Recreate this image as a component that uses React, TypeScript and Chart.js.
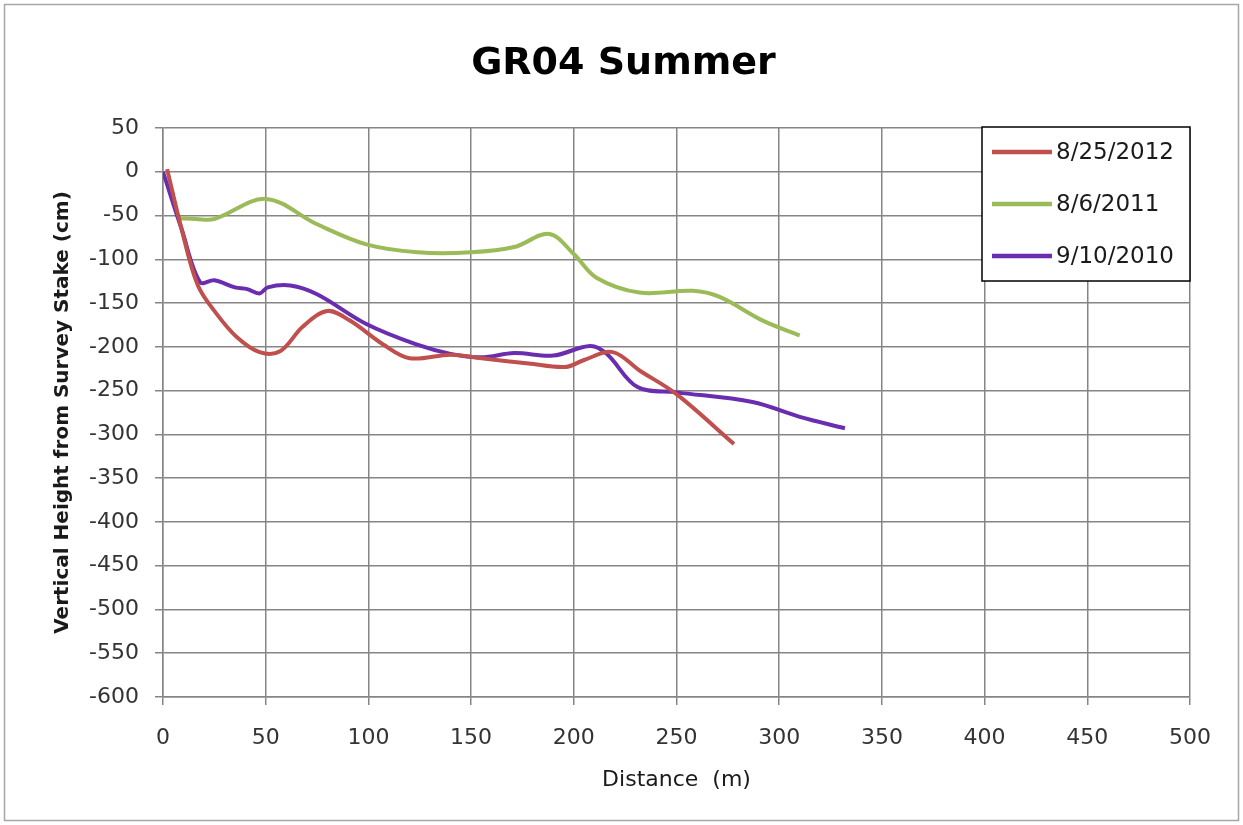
import React, { useEffect, useRef } from 'react';
import { Chart, registerables } from 'chart.js';

Chart.register(...registerables);

const chartTitle = 'GR04 Summer';
const xAxisTitle = 'Distance  (m)';
const yAxisTitle = 'Vertical Height from Survey Stake (cm)';

const seriesLabels = ['8/25/2012', '8/6/2011', '9/10/2010'];
const seriesColors = ['#C0504D', '#9BBB59', '#6A2DB0'];

const x2012 = [2, 9, 17, 26, 36, 47, 57, 68, 80, 91, 107, 120, 140, 155, 178, 196, 205, 219, 232, 250, 278];
const y2012 = [3, -65, -130, -162, -189, -206, -205, -177, -159, -170, -197, -213, -209, -213, -219, -223, -215, -206, -227, -254, -311];

const x2011 = [8, 16, 25, 50, 75, 99, 124, 150, 171, 188, 200, 211, 232, 258, 271, 292, 310];
const y2011 = [-53, -54, -54, -31, -60, -83, -92, -92, -86, -71, -94, -121, -138, -136, -143, -170, -187];

const x2010 = [0, 9, 18, 25, 35, 41, 47, 51, 62, 75, 99, 123, 140, 155, 171, 190, 208, 216, 231, 250, 287, 310, 332];
const y2010 = [0, -65, -126, -124, -132, -134, -139, -132, -130, -140, -174, -197, -208, -212, -207, -210, -199, -208, -246, -252, -263, -280, -293];

const xMin = 0;
const xMax = 500;
const xStep = 50;
const yMin = -600;
const yMax = 50;
const yStep = 50;

const toPoints = (xs: number[], ys: number[]) => xs.map((x, i) => ({ x, y: ys[i] }));

const GRID = '#858585';

const frameTitleLegend = {
  id: 'frameTitleLegend',
  beforeDraw(chart: any) {
    const { ctx, width, height } = chart;
    ctx.save();
    ctx.fillStyle = '#ffffff';
    ctx.fillRect(0, 0, width, height);
    ctx.strokeStyle = '#a6a6a6';
    ctx.lineWidth = 1.5;
    ctx.strokeRect(4.5, 4.5, width - 9, height - 9);
    ctx.fillStyle = '#000000';
    ctx.font = 'bold 38px "DejaVu Sans"';
    ctx.textAlign = 'center';
    ctx.textBaseline = 'middle';
    ctx.fillText(chartTitle, width / 2 + 2, 64);
    ctx.restore();
  },
  afterDatasetsDraw(chart: any) {
    const { ctx, chartArea } = chart;
    const right = chartArea.right;
    const top = chartArea.top - 1;
    const w = 208;
    const h = 154;
    const left = right - w;
    ctx.save();
    ctx.fillStyle = '#ffffff';
    ctx.fillRect(left, top, w, h);
    ctx.strokeStyle = '#000000';
    ctx.lineWidth = 1.5;
    ctx.strokeRect(left, top, w, h);
    ctx.font = '23px "DejaVu Sans"';
    ctx.textBaseline = 'middle';
    ctx.textAlign = 'left';
    chart.data.datasets.forEach((ds: any, i: number) => {
      const y = top + 25 + i * 52;
      ctx.strokeStyle = ds.borderColor;
      ctx.lineWidth = 4.5;
      ctx.lineCap = 'butt';
      ctx.beginPath();
      ctx.moveTo(left + 10, y);
      ctx.lineTo(left + 70, y);
      ctx.stroke();
      ctx.fillStyle = '#1a1a1a';
      ctx.fillText(ds.label, left + 74, y + 1);
    });
    ctx.restore();
  },
};

export default function App() {
  const canvasRef = useRef<HTMLCanvasElement | null>(null);

  useEffect(() => {
    const canvas = canvasRef.current;
    if (!canvas) return;
    const chart = new Chart(canvas, {
      type: 'line',
      data: {
        datasets: [
          { label: seriesLabels[0], data: toPoints(x2012, y2012), borderColor: seriesColors[0] },
          { label: seriesLabels[1], data: toPoints(x2011, y2011), borderColor: seriesColors[1] },
          { label: seriesLabels[2], data: toPoints(x2010, y2010), borderColor: seriesColors[2] },
        ].map((d) => ({
          ...d,
          borderWidth: 4,
          pointRadius: 0,
          tension: 0.35,
          fill: false,
          backgroundColor: d.borderColor,
        })),
      },
      options: {
        animation: false,
        responsive: false,
        maintainAspectRatio: false,
        layout: { padding: { left: 0, right: 53, top: 128, bottom: 0 } },
        plugins: {
          legend: { display: false },
          tooltip: { enabled: false },
          title: { display: false },
        },
        scales: {
          x: {
            type: 'linear',
            min: xMin,
            max: xMax,
            ticks: {
              stepSize: xStep,
              color: '#333333',
              font: { family: '"DejaVu Sans"', size: 22 },
              padding: 20,
              maxRotation: 0,
            },
            grid: { color: GRID, lineWidth: 1.5, tickLength: 8, drawTicks: true },
            border: { display: true, color: GRID, width: 1.5 },
            title: {
              display: true,
              text: xAxisTitle,
              color: '#1a1a1a',
              font: { family: '"DejaVu Sans"', size: 22 },
              padding: { top: 0, bottom: 32 },
            },
            afterFit: (s: any) => {
              s.height = 128;
            },
          },
          y: {
            type: 'linear',
            min: yMin,
            max: yMax,
            ticks: {
              stepSize: yStep,
              color: '#333333',
              font: { family: '"DejaVu Sans"', size: 22 },
              padding: 16,
            },
            grid: { color: GRID, lineWidth: 1.5, tickLength: 8, drawTicks: true },
            border: { display: true, color: GRID, width: 1.5 },
            title: {
              display: true,
              text: yAxisTitle,
              color: '#1a1a1a',
              font: { family: '"DejaVu Sans"', size: 20, weight: 'bold' },
              padding: { top: 51, bottom: 0 },
            },
            afterFit: (s: any) => {
              s.width = 163;
            },
          },
        },
      },
      plugins: [frameTitleLegend],
    });
    return () => chart.destroy();
  }, []);

  return (
    <div style={{ position: 'absolute', left: 0, top: 0, width: 1243, height: 825, background: '#fff' }}>
      <canvas ref={canvasRef} width={1243} height={825} style={{ display: 'block' }} />
    </div>
  );
}
